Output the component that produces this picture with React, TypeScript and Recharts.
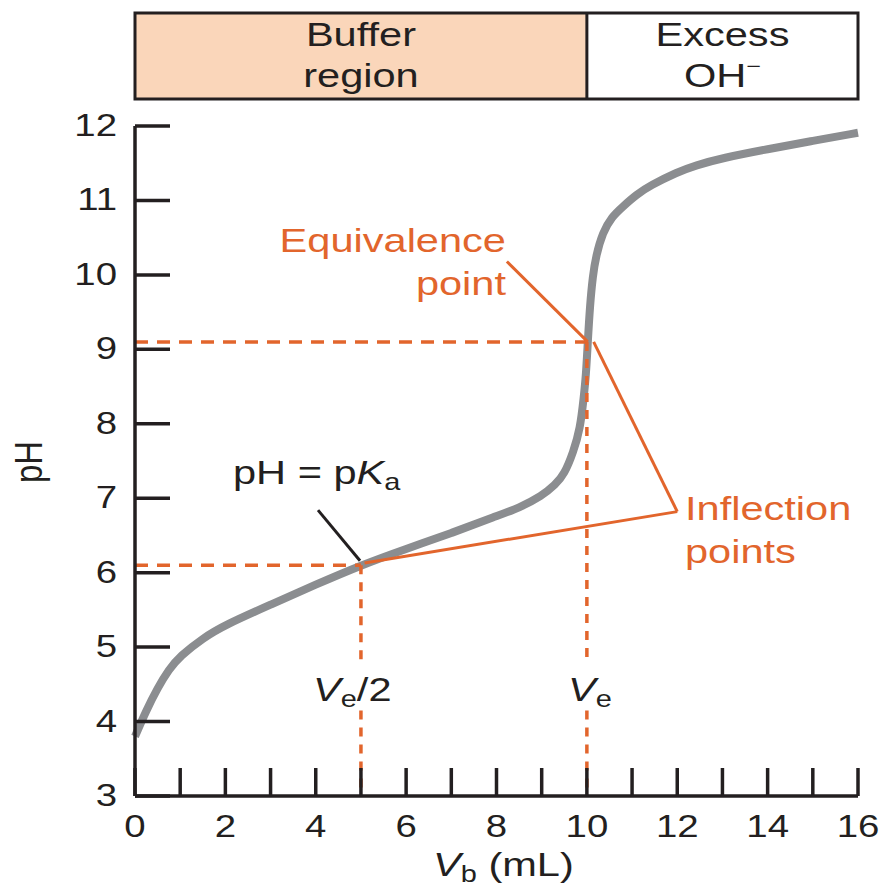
import React from 'react';
import { ComposedChart, Line, XAxis, YAxis, ReferenceLine } from 'recharts';

// titration curve
const volumes = [0, 0.25, 0.5, 0.75, 1, 1.5, 2, 3, 4, 5, 6, 7, 8, 8.5, 9, 9.3, 9.5, 9.7, 9.85, 9.93, 9.98, 10.02, 10.07, 10.13, 10.2, 10.35, 10.55, 10.8, 11.1, 11.4, 12, 12.4, 13, 14, 15, 16];
const phValues = [3.8, 4.15, 4.45, 4.7, 4.88, 5.12, 5.3, 5.57, 5.84, 6.1, 6.32, 6.53, 6.76, 6.87, 7.03, 7.18, 7.32, 7.62, 7.93, 8.35, 8.65, 9.1, 9.6, 9.98, 10.25, 10.57, 10.78, 10.92, 11.08, 11.2, 11.38, 11.47, 11.57, 11.69, 11.8, 11.91];

const xTicks = [0, 1, 2, 3, 4, 5, 6, 7, 8, 9, 10, 11, 12, 13, 14, 15, 16];
const yTicks = [3, 4, 5, 6, 7, 8, 9, 10, 11, 12];

const equivalence = { x: 10.02, y: 9.1 };
const halfEquivalence = { x: 5, y: 6.1 };
const inflectionCorner = { x: 12.0, y: 6.82 };
const equivalenceLabelEnd = { x: 8.23, y: 10.18 };
const pkaLabelEnd = { x: 4.05, y: 6.84 };
const bufferEnd = 10;
const xMax = 16;

const data = volumes.map((v, i) => ({ v, pH: phValues[i] }));

const ORANGE = '#E2652C';
const INK = '#231F20';
const FONT = '"Liberation Sans", Arial, sans-serif';
const PLOT_LEFT = 135;
const PLOT_RIGHT = 858;

// the original lettering is set wide, so stretch it horizontally
function SText({ x, y, anchor = 'start', size = 33, sx = 1.26, fill = INK, rotate = false, children }: any) {
  return (
    <text
      transform={`translate(${x} ${y}) scale(${sx} 1)${rotate ? ' rotate(-90)' : ''}`}
      textAnchor={anchor}
      fontSize={size}
      fill={fill}
      fontFamily={FONT}
    >
      {children}
    </text>
  );
}

const renderYTick = (props: any) => {
  const { x, y, payload } = props;
  return (
    <g>
      <line x1={x + 18} x2={x + 53} y1={y} y2={y} stroke={INK} strokeWidth={3.5} />
      <SText x={x} y={y + 10} anchor="end" size={32} sx={1.2}>{payload.value}</SText>
    </g>
  );
};

const renderXTick = (props: any) => {
  const { x, y, payload } = props;
  return (
    <g>
      <line x1={x} x2={x} y1={y - 12} y2={y - 40} stroke={INK} strokeWidth={3.5} />
      {payload.value % 2 === 0 && (
        <SText x={x} y={y + 29} anchor="middle" size={32} sx={1.2}>{payload.value}</SText>
      )}
    </g>
  );
};

export default function App() {
  const divider = PLOT_LEFT + ((PLOT_RIGHT - PLOT_LEFT) * bufferEnd) / xMax;
  const bufferMid = (PLOT_LEFT + divider) / 2;
  const excessMid = (divider + PLOT_RIGHT) / 2;
  return (
    <div style={{ position: 'absolute', left: 0, top: 0, width: 884, height: 891, background: '#fff' }}>
      <div style={{ position: 'absolute', left: 0, top: 0 }}>
        <ComposedChart width={884} height={891} data={data} margin={{ top: 126, right: 26, bottom: 45, left: 75 }}>
          <XAxis
            dataKey="v" type="number" domain={[0, xMax]} ticks={xTicks} interval={0}
            height={50} tickSize={0} tickMargin={12} tick={renderXTick}
            axisLine={{ stroke: INK, strokeWidth: 3.5 }}
          />
          <YAxis
            type="number" domain={[3, 12]} ticks={yTicks} interval={0}
            width={60} tickSize={0} tickMargin={18} tick={renderYTick}
            axisLine={{ stroke: INK, strokeWidth: 3.5 }}
          />
          <Line
            dataKey="pH" type="basis" stroke="#8B8D90" strokeWidth={8}
            dot={false} isAnimationActive={false}
          />
          {/* dashed guides */}
          <ReferenceLine segment={[{ x: 0, y: equivalence.y }, { x: equivalence.x, y: equivalence.y }]}
            stroke={ORANGE} strokeWidth={3.5} strokeDasharray="13 9" ifOverflow="visible" />
          <ReferenceLine segment={[{ x: 0, y: halfEquivalence.y }, { x: halfEquivalence.x, y: halfEquivalence.y }]}
            stroke={ORANGE} strokeWidth={3.5} strokeDasharray="13 9" ifOverflow="visible" />
          <ReferenceLine segment={[{ x: halfEquivalence.x, y: halfEquivalence.y }, { x: halfEquivalence.x, y: 4.8 }]}
            stroke={ORANGE} strokeWidth={3.5} strokeDasharray="9 8" ifOverflow="visible" />
          <ReferenceLine segment={[{ x: halfEquivalence.x, y: 4.15 }, { x: halfEquivalence.x, y: 3 }]}
            stroke={ORANGE} strokeWidth={3.5} strokeDasharray="9 8" ifOverflow="visible" />
          <ReferenceLine segment={[{ x: bufferEnd, y: equivalence.y }, { x: bufferEnd, y: 4.8 }]}
            stroke={ORANGE} strokeWidth={3.5} strokeDasharray="9 8" ifOverflow="visible" />
          <ReferenceLine segment={[{ x: bufferEnd, y: 4.15 }, { x: bufferEnd, y: 3 }]}
            stroke={ORANGE} strokeWidth={3.5} strokeDasharray="9 8" ifOverflow="visible" />
          {/* leader lines */}
          <ReferenceLine segment={[equivalenceLabelEnd, equivalence]}
            stroke={ORANGE} strokeWidth={3} ifOverflow="visible" />
          <ReferenceLine segment={[{ x: 10.15, y: 9.1 }, inflectionCorner]}
            stroke={ORANGE} strokeWidth={3} ifOverflow="visible" />
          <ReferenceLine segment={[{ x: 5.08, y: 6.13 }, inflectionCorner]}
            stroke={ORANGE} strokeWidth={3} ifOverflow="visible" />
          <ReferenceLine segment={[pkaLabelEnd, { x: 4.98, y: 6.16 }]}
            stroke={INK} strokeWidth={3} ifOverflow="visible" />
        </ComposedChart>
      </div>

      {/* header band + annotation text */}
      <svg width={884} height={891} style={{ position: 'absolute', left: 0, top: 0, pointerEvents: 'none' }}>
        <rect x={PLOT_LEFT} y={13} width={divider - PLOT_LEFT} height={86} fill="#FAD6BA" />
        <rect x={PLOT_LEFT} y={13} width={PLOT_RIGHT - PLOT_LEFT} height={86} fill="none" stroke={INK} strokeWidth={3} />
        <line x1={divider} x2={divider} y1={13} y2={99} stroke={INK} strokeWidth={3} />
        <SText x={bufferMid} y={46} anchor="middle">Buffer</SText>
        <SText x={bufferMid} y={87} anchor="middle">region</SText>
        <SText x={excessMid} y={46} anchor="middle">Excess</SText>
        <SText x={excessMid} y={87} anchor="middle">
          OH<tspan fontSize={20} dy={-14}>−</tspan>
        </SText>

        <SText x={506} y={252} anchor="end" fill={ORANGE}>Equivalence</SText>
        <SText x={506} y={295} anchor="end" fill={ORANGE}>point</SText>
        <SText x={685} y={520} fill={ORANGE}>Inflection</SText>
        <SText x={685} y={563} fill={ORANGE}>points</SText>
        <SText x={233} y={484}>
          pH = p<tspan fontStyle="italic">K</tspan><tspan fontSize={23} dy={6}>a</tspan>
        </SText>
        <SText x={313} y={701}>
          <tspan fontStyle="italic">V</tspan><tspan fontSize={23} dy={6}>e</tspan><tspan dy={-6}>/2</tspan>
        </SText>
        <SText x={568} y={701}>
          <tspan fontStyle="italic">V</tspan><tspan fontSize={23} dy={6}>e</tspan>
        </SText>
        <SText x={433} y={876}>
          <tspan fontStyle="italic">V</tspan><tspan fontSize={23} dy={6}>b</tspan><tspan dy={-6}> (mL)</tspan>
        </SText>
        <SText x={42} y={462} anchor="middle" sx={1.2} rotate>pH</SText>
      </svg>
    </div>
  );
}
